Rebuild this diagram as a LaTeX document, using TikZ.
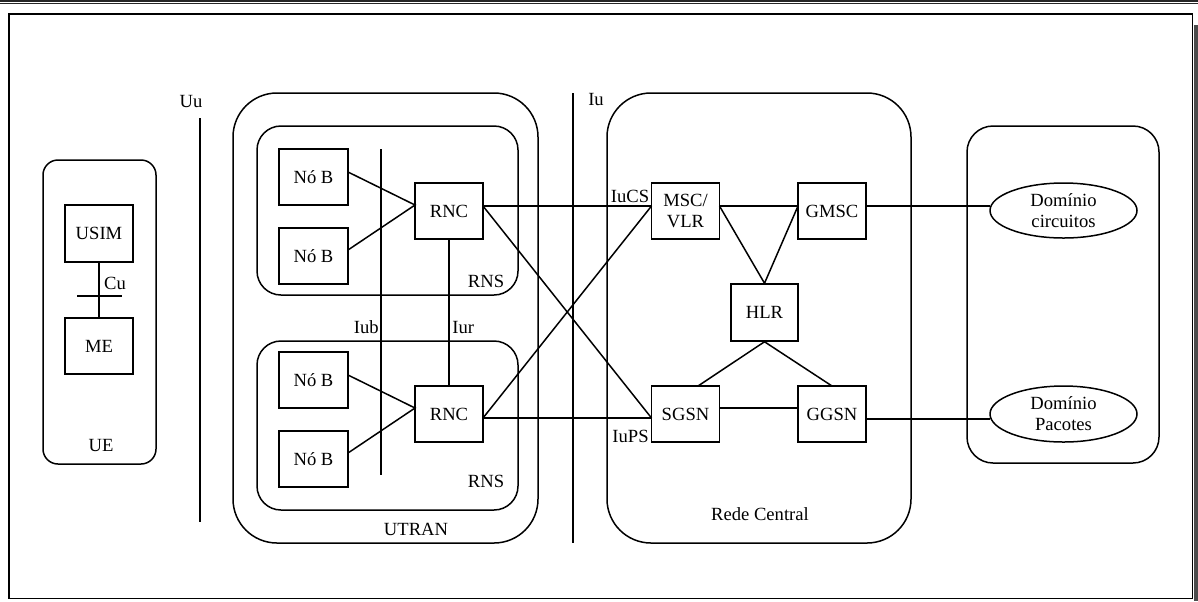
\documentclass[tikz,border=0pt]{standalone}
\usepackage{fontspec}
\setmainfont{Liberation Serif}
\usetikzlibrary{shapes.geometric}
\begin{document}
\begin{tikzpicture}[x=0.5pt,y=-0.5pt,
  every node/.style={font=\fontsize{9.3}{10.6}\selectfont, inner sep=0pt},
  box/.style={draw, line width=0.75pt, minimum width=34pt, minimum height=28pt, align=center},
  container/.style={draw, line width=0.75pt, rounded corners=#1},
  dom/.style={draw, line width=0.75pt, ellipse, minimum width=73.5pt, minimum height=27.5pt, align=center},
  link/.style={line width=0.75pt},
  lbl/.style={}]
\useasboundingbox (0,0) rectangle (1198,601);
% page frame
\draw[line width=0.9pt, black!85] (0,0.9) -- (1198,0.9);
\draw[line width=0.5pt, black!85] (0,3.8) -- (1198,3.8);
\fill[black!70] (1193.5,25) rectangle (1198,601);
\draw[line width=0.9pt] (9,14) rectangle (1192.5,598.5);

% UE
\node[container=7.5pt, minimum width=56.5pt, minimum height=152pt] (ue) at (99.5,312) {};
\node[box, minimum height=28.5pt] (usim) at (99,233.5) {USIM};
\node[box] (me) at (99,346) {ME};
\node[lbl] (uelbl) at (101,445) {UE};
\node[lbl] (cu) at (115,283) {Cu};
\coordinate (cuA) at (77,296);
\coordinate (cuB) at (122,296);
\draw[link] (usim.south) -- (me.north);
\draw[link] (cuA) -- (cuB);

% Uu
\node[lbl] (uu) at (191,101) {Uu};
\coordinate (uuT) at (200,118);
\coordinate (uuB) at (200,522);
\draw[link] (uuT) -- (uuB);

% UTRAN
\node[container=22pt, minimum width=152.5pt, minimum height=225pt] (utran) at (385.5,318) {};
\node[lbl] (utranlbl) at (416,529) {UTRAN};
\node[container=12pt, minimum width=130.5pt, minimum height=84.5pt] (rns1) at (387.5,210.5) {};
\node[container=12pt, minimum width=130.5pt, minimum height=84.5pt] (rns2) at (387.5,425.5) {};
\node[lbl] (rns1lbl) at (486,281) {RNS};
\node[lbl] (rns2lbl) at (486,481) {RNS};
\node[box, minimum width=34.5pt] (nb1) at (313.5,177) {Nó B};
\node[box, minimum width=34.5pt] (nb2) at (313.5,256) {Nó B};
\node[box, minimum width=34.5pt] (nb3) at (313.5,380) {Nó B};
\node[box, minimum width=34.5pt] (nb4) at (313.5,459) {Nó B};
\node[box] (rnc1) at (449,211) {RNC};
\node[box] (rnc2) at (449,414) {RNC};
% Iub / Iur
\coordinate (iubT) at (381,149);
\coordinate (iubB) at (381,475);
\draw[link] (iubT) -- (iubB);
\node[lbl, anchor=east] (iub) at (379,327) {Iub};
\node[lbl, anchor=west] (iur) at (452,327) {Iur};
\draw[link] (rnc1.south) -- (rnc2.north);

% ports
\coordinate (nb1p) at (348,172);
\coordinate (nb2p) at (348,250);
\coordinate (nb3p) at (348,375);
\coordinate (nb4p) at (348,453);
\coordinate (rnc1l) at (415,205);
\coordinate (rnc2l) at (415,408);
\coordinate (rnc1r) at (483,206);
\coordinate (rnc2r) at (483,418);
\draw[link] (nb1p) -- (rnc1l) -- (nb2p);
\draw[link] (nb3p) -- (rnc2l) -- (nb4p);

% Iu
\coordinate (iuT) at (573,93);
\coordinate (iuB) at (573,543);
\draw[link] (iuT) -- (iuB);
\node[lbl] (iu) at (596,99) {Iu};

% Core network
\node[container=22pt, minimum width=152pt, minimum height=225pt] (core) at (759,318) {};
\node[lbl] (corelbl) at (760,514) {Rede Central};
\node[box] (msc) at (685.5,211) {MSC/\\VLR};
\node[box] (gmsc) at (832,211) {GMSC};
\node[box, minimum width=33.5pt, minimum height=28.5pt] (hlr) at (764.5,312.5) {HLR};
\node[box] (sgsn) at (685.5,414) {SGSN};
\node[box] (ggsn) at (832,414) {GGSN};
\node[lbl] (iucs) at (630,196) {IuCS};
\node[lbl] (iups) at (630.5,436) {IuPS};

\coordinate (mscl) at (651.5,206);
\coordinate (sgsnl) at (651.5,418);
\coordinate (mscr) at (719.5,206);
\coordinate (gmscl) at (798,206);
\coordinate (gmscr) at (866,206);
\coordinate (sgsnr) at (719.5,408);
\coordinate (ggsnl) at (798,408);
\coordinate (ggsnr) at (866,419);
\coordinate (sgsnt) at (698,386);
\coordinate (ggsnt) at (832,386);

\draw[link] (rnc1r) -- (mscl);
\draw[link] (rnc1r) -- (sgsnl);
\draw[link] (rnc2r) -- (sgsnl);
\draw[link] (rnc2r) -- (mscl);
\draw[link] (mscr) -- (gmscl);
\draw[link] (mscr) -- (hlr.north) -- (gmscl);
\draw[link] (sgsnt) -- (hlr.south) -- (ggsnt);
\draw[link] (sgsnr) -- (ggsnl);

% Domains
\node[container=13pt, minimum width=96pt, minimum height=168.5pt] (domains) at (1063,294.5) {};
\node[dom] (cs) at (1063.5,210.5) {Domínio\\circuitos};
\node[dom, minimum height=28pt] (ps) at (1063.5,414) {Domínio\\Pacotes};
\coordinate (csl) at (990,206);
\coordinate (psl) at (990,419);
\draw[link] (gmscr) -- (csl);
\draw[link] (ggsnr) -- (psl);
\end{tikzpicture}
\end{document}
